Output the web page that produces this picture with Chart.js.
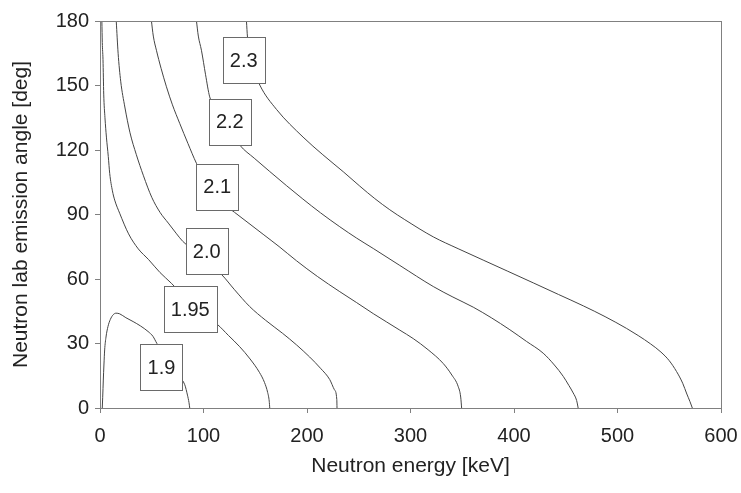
<!DOCTYPE html>
<html lang="en">

<head>
    <meta charset="UTF-8">
    <title>Neutron emission contours</title>
    <script src="https://cdn.jsdelivr.net/npm/chart.js"></script>
    <style>
        body { margin: 0; background: #fff; }
        canvas { display: block; }
    </style>
</head>

<body>
    <canvas id="grafico" width="741" height="493"></canvas>

<script>
    // contour levels and their label anchors (keV, deg)
    const levels = ['1.9', '1.95', '2.0', '2.1', '2.2', '2.3'];
    const labelX = [59.4, 87.2, 103.1, 113.3, 125.4, 138.9];
    const labelY = [19, 45.9, 72.8, 102.8, 133.2, 161.8];

    const xTicks = [0, 100, 200, 300, 400, 500, 600];
    const yTicks = [0, 30, 60, 90, 120, 150, 180];

    // contour 1.9
    const e190 = [2.2, 2.6, 3.2, 3.8, 4.5, 5.8, 7.7, 10, 12.6, 15.5, 19, 25, 32, 39, 46.4, 51.2, 55, 62, 70, 77, 81.9, 84.5, 86, 86.7];
    const a190 = [0, 5, 13, 20, 27, 33, 37.9, 41.2, 43.3, 44.1, 43.8, 42, 40.2, 38.2, 35.6, 33.3, 30, 25, 19.5, 14.5, 10.8, 6, 2.5, 0];
    // contour 1.95
    const e195 = [1.8, 2.2, 2.9, 3.6, 4.8, 6.2, 8, 9.4, 12, 14.2, 19, 27.6, 37, 47, 58, 69, 80, 92, 104, 113.8, 124, 135, 145, 154, 159, 162, 163.5, 164];
    const a195 = [180, 170, 162, 146, 135, 126, 117, 109, 101, 96.7, 90.6, 81, 74, 69, 63, 58, 52.5, 47, 42, 38.7, 33.8, 28.5, 22.8, 16.6, 11.8, 7.2, 3.2, 0];
    // contour 2.0
    const e200 = [15.7, 17.5, 20, 24, 29, 35, 42, 50, 58, 66, 74, 80, 88, 100, 110, 117.6, 130, 144.6, 160, 176.5, 190, 202.6, 213, 222, 226.5, 228.8, 229];
    const a200 = [180, 165, 152, 140, 128, 118, 108, 98, 91, 86, 81, 77.5, 74.2, 69.3, 65.1, 62, 55, 47.2, 40.8, 34.7, 29.3, 23.7, 18.5, 13.2, 8.5, 3.9, 0];
    // contour 2.1
    const e210 = [49.7, 51.5, 54.5, 59, 64.2, 70, 77, 85, 93.2, 102, 112, 122, 130, 143, 157.6, 173, 189.8, 210, 231.7, 248, 264, 277, 289.7, 302.6, 317, 331.6, 340, 346, 348.5, 349.4];
    const a210 = [180, 173, 166.4, 158, 149.4, 141, 132.4, 123, 113.8, 106, 99, 94, 91, 86.2, 80.8, 75.1, 68.5, 61.2, 54.1, 49, 43.9, 40, 36.2, 32.3, 27.1, 20.7, 15.3, 10.1, 5.1, 0];
    // contour 2.2
    const e220 = [93.2, 95, 98, 102, 106, 115, 125, 135, 149, 164, 180, 196, 213, 231.7, 248, 264, 289.7, 322, 341, 360.6, 378, 396, 412, 428.2, 439, 447.6, 453, 457.2, 460.5, 462];
    const a220 = [180, 173, 166.4, 155, 144.7, 137.5, 130, 122.3, 116.2, 110, 103.5, 97.2, 90.8, 84.3, 79, 74.2, 66.3, 56.5, 51.6, 46.9, 42, 36.4, 31, 25.5, 20, 14.7, 10.5, 7, 3.5, 0];
    // contour 2.3
    const e230 = [141.5, 142.5, 145, 149, 154.4, 170.5, 196.2, 215.3, 235, 251, 265.5, 280, 294.5, 322, 346, 370.2, 394, 418.6, 443, 467, 488, 508.8, 520, 532, 542, 550, 557, 563, 567, 570, 572.3];
    const a230 = [180, 172.5, 165, 157, 150.2, 138.9, 126, 117.8, 109.9, 103.2, 97.4, 92.2, 87.6, 79.6, 74.1, 68.8, 63.6, 58.2, 52.8, 47.5, 42.5, 37, 33.7, 29.8, 26, 22, 17, 11.5, 6.5, 3, 0];

    const curvasX = [e190, e195, e200, e210, e220, e230];
    const curvasY = [a190, a195, a200, a210, a220, a230];

    const fonte = '"Liberation Sans", Arial, sans-serif';

    // monta os datasets a partir dos arrays
    const datasets = levels.map((nivel, i) => ({
        label: nivel,
        data: curvasX[i].map((v, j) => ({ x: v, y: curvasY[i][j] })),
        showLine: true,
        pointRadius: 0,
        borderColor: '#444',
        borderWidth: 1,
        cubicInterpolationMode: 'monotone'
    }));

    // caixas dos rótulos e moldura do gráfico
    const rotulosContorno = {
        id: 'rotulosContorno',
        afterDatasetsDraw(chart) {
            const { ctx, chartArea: a, scales: { x, y } } = chart;
            ctx.save();
            ctx.strokeStyle = '#808080';
            ctx.lineWidth = 1;
            ctx.strokeRect(Math.round(a.left) + 0.5, Math.round(a.top) + 0.5,
                Math.round(a.right - a.left), Math.round(a.bottom - a.top));

            ctx.font = '20px ' + fonte;
            ctx.textAlign = 'center';
            ctx.textBaseline = 'middle';
            levels.forEach((t, i) => {
                const px = x.getPixelForValue(labelX[i]);
                const py = y.getPixelForValue(labelY[i]);
                const w = Math.round(ctx.measureText(t).width + 14);
                const h = 46;
                const bx = Math.round(px - w / 2), by = Math.round(py - h / 2);
                ctx.fillStyle = '#fff';
                ctx.fillRect(bx, by, w, h);
                ctx.strokeStyle = '#6a6a6a';
                ctx.strokeRect(bx + 0.5, by + 0.5, w, h);
                ctx.fillStyle = '#222';
                ctx.fillText(t, px, py + 1);
            });
            ctx.restore();
        }
    };

    new Chart(document.getElementById('grafico'), {
        type: 'scatter',
        data: { datasets: datasets },
        plugins: [rotulosContorno],
        options: {
            responsive: false,
            animation: false,
            layout: { padding: { top: 21, right: 20, left: 0, bottom: 0 } },
            plugins: {
                legend: { display: false },
                tooltip: { enabled: false }
            },
            scales: {
                x: {
                    type: 'linear',
                    min: 0,
                    max: 600,
                    afterFit: s => { s.height = 85; s.paddingLeft = 0; s.paddingRight = 0; },
                    afterBuildTicks: s => { s.ticks = xTicks.map(v => ({ value: v })); },
                    ticks: {
                        color: '#222',
                        padding: 11,
                        font: { family: fonte, size: 20 }
                    },
                    grid: { drawOnChartArea: false, drawTicks: true, tickLength: 5, color: '#808080' },
                    border: { display: true, color: '#808080' },
                    title: {
                        display: true,
                        text: 'Neutron energy [keV]',
                        color: '#222',
                        font: { family: fonte, size: 21 },
                        padding: { top: 0, bottom: 14 }
                    }
                },
                y: {
                    type: 'linear',
                    min: 0,
                    max: 180,
                    afterFit: s => { s.width = 100; s.paddingTop = 0; s.paddingBottom = 0; },
                    afterBuildTicks: s => { s.ticks = yTicks.map(v => ({ value: v })); },
                    ticks: {
                        color: '#222',
                        padding: 6,
                        font: { family: fonte, size: 20 }
                    },
                    grid: { drawOnChartArea: false, drawTicks: true, tickLength: 5, color: '#808080' },
                    border: { display: true, color: '#808080' },
                    title: {
                        display: true,
                        text: 'Neutron lab emission angle [deg]',
                        color: '#222',
                        font: { family: fonte, size: 21 },
                        padding: { top: 9, bottom: 0 }
                    }
                }
            }
        }
    });
</script>
</body>

</html>
